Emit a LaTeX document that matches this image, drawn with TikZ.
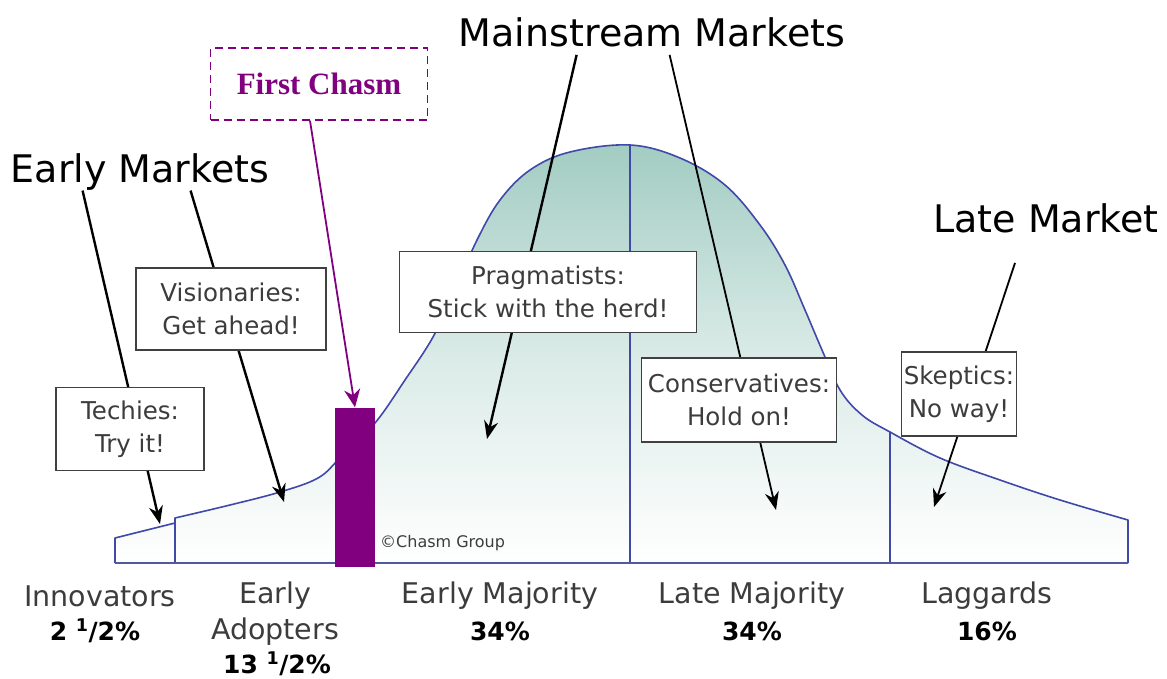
\documentclass[tikz,border=0pt]{standalone}
\usepackage{fontspec}
\setmainfont{DejaVu Sans}
\newfontfamily\chasmfont{Liberation Serif}
\usetikzlibrary{arrows.meta, positioning, shapes}
\definecolor{ChasmPurple}{RGB}{128, 0, 128}
\definecolor{CurveBlue}{RGB}{64, 72, 168}
\definecolor{FillTeal}{RGB}{162, 204, 194}
\definecolor{BoxGray}{RGB}{64, 64, 64}
\definecolor{LabelGray}{RGB}{60, 60, 60}

\begin{document}
\begin{tikzpicture}[x=1pt, y=-1pt,
    talkbox/.style={draw=BoxGray, line width=1.6pt, fill=white, align=center, inner sep=0pt,
      font=\fontsize{24.5}{33}\selectfont, text=LabelGray},
    market/.style={font=\fontsize{38}{44}\selectfont, text=black, inner sep=0pt},
    segment/.style={align=center, font=\fontsize{28.5}{36}\selectfont, text=LabelGray, inner sep=0pt},
    share/.style={font=\bfseries\fontsize{25}{30}\selectfont, text=black, inner sep=0pt},
    pointer/.style={black, line width=2.4pt, -{Stealth[length=18pt, width=14pt]}},
  ]
  \useasboundingbox (0,0) rectangle (1167,679);

  % Bell curve
  \shade[top color=FillTeal, bottom color=white, middle color=FillTeal!40]
    (115,563) -- (115,538) -- (175,523) -- (175,518) -- plot[smooth, tension=0.6] coordinates {
      (175,518) (230,505) (280,492) (318,478) (340,458) (375,423) (405,380) (433,337)
      (455,290) (477,240) (500,200) (530,170) (570,152) (630,145) (680,158) (725,185)
      (760,225) (785,265) (805,310) (822,350) (840,390) (862,415) (890,432) (940,458)
      (1000,480) (1060,500) (1128,520)} -- (1128,563) -- cycle;
  \draw[CurveBlue, line width=1.6pt, line join=round]
    (115,563) -- (115,538) -- (175,523) -- (175,518) -- plot[smooth, tension=0.6] coordinates {
      (175,518) (230,505) (280,492) (318,478) (340,458) (375,423) (405,380) (433,337)
      (455,290) (477,240) (500,200) (530,170) (570,152) (630,145) (680,158) (725,185)
      (760,225) (785,265) (805,310) (822,350) (840,390) (862,415) (890,432) (940,458)
      (1000,480) (1060,500) (1128,520)} -- (1128,563);
  \draw[CurveBlue, line width=1.6pt] (175,523) -- (175,563);
  \draw[CurveBlue, line width=1.6pt] (630,145) -- (630,563);
  \draw[CurveBlue, line width=1.6pt] (890,432) -- (890,563);
  \draw[CurveBlue!70!gray, line width=2.4pt] (115,563) -- (1128,563);

  % Market titles
  \node[market] (em) at (140,172) {Early Markets};
  \node[market] (mm) at (652,32) {Mainstream Markets};
  \node[market] (lm) at (1046,218) {Late Market};

  % Arrow tips
  \coordinate (techtip) at (160,524);
  \coordinate (vistip) at (284,502);
  \coordinate (pragtip) at (487,439);
  \coordinate (constip) at (776,510);
  \coordinate (skeptip) at (934,507);

  \draw[pointer] ([xshift=72pt]em.south west) -- (techtip);
  \draw[pointer] ([xshift=180pt]em.south west) -- (vistip);
  \draw[pointer] ([xshift=118pt, yshift=-8pt]mm.south west) -- (pragtip);
  \draw[pointer, line width=1.8pt] ([xshift=211pt, yshift=-8pt]mm.south west) -- (constip);
  \draw[pointer, line width=1.8pt] ([xshift=-31pt, yshift=-30pt]lm.south) -- (skeptip);

  % Adopter boxes
  \node[talkbox, minimum width=148pt, minimum height=83pt] (techies) at (130,429) {Techies:\\Try it!};
  \node[talkbox, minimum width=190pt, minimum height=82pt] (visionaries) at (231,309) {Visionaries:\\Get ahead!};
  \node[talkbox, minimum width=297pt, minimum height=81pt] (pragmatists) at (548,292) {Pragmatists:\\Stick with the herd!};
  \node[talkbox, minimum width=195pt, minimum height=84pt] (conservatives) at (739,400) {Conservatives:\\Hold on!};
  \node[talkbox, minimum width=115pt, minimum height=84pt] (skeptics) at (959,394) {Skeptics:\\No way!};

  % First chasm
  \node[fill=ChasmPurple, minimum width=40pt, minimum height=159pt, inner sep=0pt] (bar) at (355,487) {};
  \node[draw=ChasmPurple, dash pattern=on 8pt off 5pt, line width=1.5pt, minimum width=217pt, minimum height=72pt,
    text=ChasmPurple, font=\chasmfont\bfseries\fontsize{31}{36}\selectfont] (chasm) at (319,84) {First Chasm};
  \draw[ChasmPurple, line width=1.8pt, -{Stealth[length=18pt, width=16pt]}] ([xshift=-9pt]chasm.south) -- (bar.north);
  \node[font=\fontsize{16}{18}\selectfont, text=LabelGray, anchor=west, inner sep=0pt] (credit) at (380,543) {\textcopyright Chasm Group};

  % Segment labels
  \node[segment] (innov) at (100,596) {Innovators};
  \node[share] (innovpct) at (95,631) {2 \textsuperscript{1}/2\%};
  \node[segment] (early) at (275,614) {Early\\Adopters};
  \node[share] (earlypct) at (277,664) {13 \textsuperscript{1}/2\%};
  \node[segment] (emaj) at (500,596) {Early Majority};
  \node[share] (emajpct) at (500,631) {34\%};
  \node[segment] (lmaj) at (752,596) {Late Majority};
  \node[share] (lmajpct) at (752,631) {34\%};
  \node[segment] (lag) at (987,596) {Laggards};
  \node[share] (lagpct) at (987,631) {16\%};
\end{tikzpicture}
\end{document}
